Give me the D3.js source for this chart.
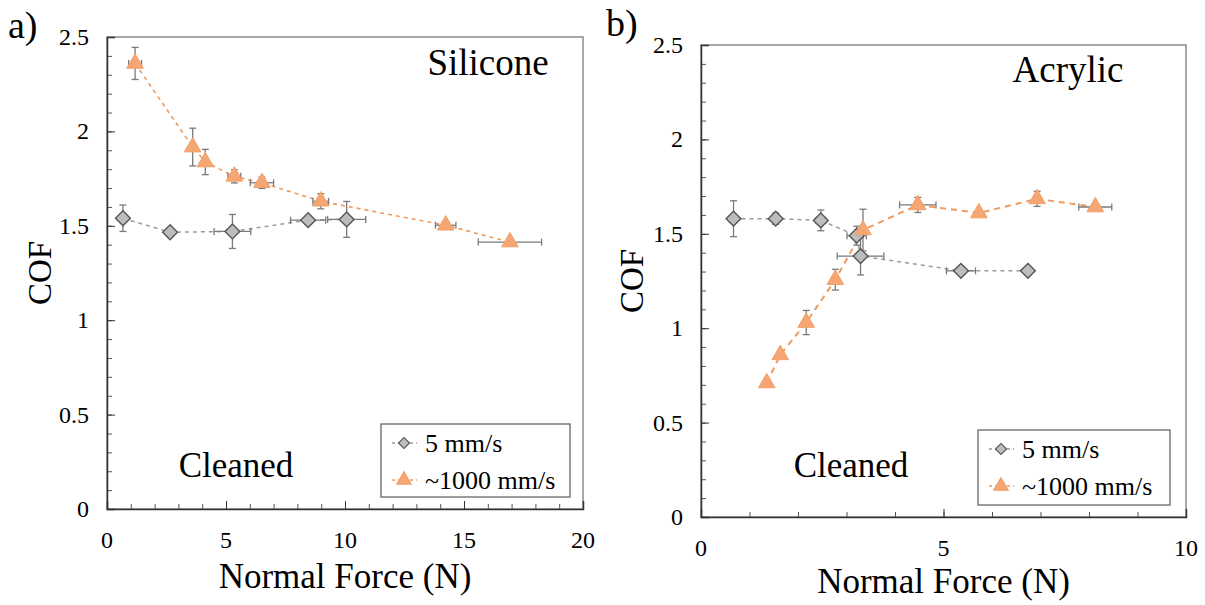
<!DOCTYPE html>
<html>
<head>
<meta charset="utf-8">
<script src="https://cdn.jsdelivr.net/npm/d3@7"></script>
<style>
  body { margin: 0; background: #fff; }
</style>
</head>
<body>
<svg id="chart" width="1205" height="605"></svg>
<script>
// ---- data ----
// panel a) Silicone
var siliconeSlowX   = [0.67, 2.65, 5.27, 8.45, 10.07]
var siliconeSlowY   = [1.54, 1.466, 1.47, 1.53, 1.534]
var siliconeSlowXe  = [0, 0, 0.77, 0.74, 0.8]
var siliconeSlowYe  = [0.07, 0, 0.09, 0.01, 0.095]

var siliconeFastX   = [1.18, 3.6, 4.13, 5.35, 6.51, 8.98, 14.23, 16.93]
var siliconeFastY   = [2.36, 1.917, 1.838, 1.762, 1.728, 1.63, 1.503, 1.414]
var siliconeFastXe  = [0.27, 0, 0, 0.27, 0.49, 0.33, 0.43, 1.33]
var siliconeFastYe  = [0.085, 0.1, 0.067, 0.035, 0.03, 0.04, 0.01, 0.01]

// panel b) Acrylic
var acrylicSlowX    = [0.67, 1.54, 2.47, 3.21, 3.29, 5.36, 6.74]
var acrylicSlowY    = [1.58, 1.58, 1.571, 1.49, 1.382, 1.304, 1.304]
var acrylicSlowXe   = [0, 0, 0.1, 0.2, 0.48, 0.3, 0]
var acrylicSlowYe   = [0.095, 0.03, 0.055, 0.05, 0.1, 0, 0]

var acrylicFastX    = [1.355, 1.635, 2.17, 2.77, 3.34, 4.47, 5.73, 6.93, 8.13]
var acrylicFastY    = [0.71, 0.859, 1.03, 1.257, 1.52, 1.653, 1.61, 1.685, 1.642]
var acrylicFastXe   = [0, 0, 0, 0, 0, 0.375, 0, 0, 0.34]
var acrylicFastYe   = [0, 0, 0.064, 0.055, 0.11, 0.04, 0.01, 0.04, 0]

var seriesNames = ["5 mm/s", "~1000 mm/s"]
var yTicks = [0, 0.5, 1, 1.5, 2, 2.5]

var serif = "'Liberation Serif'"

var zip = function (xs, ys, xe, ye) {
  return xs.map(function (x, i) { return { x: x, y: ys[i], xe: xe[i], ye: ye[i] } })
}

var panels = [
  {
    tag: "a)", title: "Silicone", left: 107, right: 583, top: 37, bottom: 509,
    xMax: 20, xTicks: [0, 5, 10, 15, 20], xMinor: d3.range(0, 21, 1),
    slow: zip(siliconeSlowX, siliconeSlowY, siliconeSlowXe, siliconeSlowYe),
    fast: zip(siliconeFastX, siliconeFastY, siliconeFastXe, siliconeFastYe),
    dash: "4,4", dashW: 1.6,
    tagPos: [8, 38], titlePos: [488, 75], cleanedPos: [236, 477],
    legend: { x: 381, y: 424, w: 189, h: 73 },
    cofX: 40, forceY: 588
  },
  {
    tag: "b)", title: "Acrylic", left: 701, right: 1186, top: 45, bottom: 517,
    xMax: 10, xTicks: [0, 5, 10], xMinor: d3.range(0, 11, 1),
    slow: zip(acrylicSlowX, acrylicSlowY, acrylicSlowXe, acrylicSlowYe),
    fast: zip(acrylicFastX, acrylicFastY, acrylicFastXe, acrylicFastYe),
    dash: "6,5", dashW: 2,
    tagPos: [606, 36], titlePos: [1068, 82], cleanedPos: [851, 477],
    legend: { x: 978, y: 430, w: 192, h: 75 },
    cofX: 632, forceY: 593
  }
]

var slowFill = "#bdbdbd", slowStroke = "#555", slowLine = "#9a9a9a"
var fastFill = "#f5a672", fastLine = "#ef9a5e", errColor = "#7a7a7a"

var svg = d3.select("#chart")
var diamond = d3.symbol().type(d3.symbolSquare).size(110)
var triangle = d3.symbol().type(d3.symbolTriangle).size(120)

// small serif text falls back to sans here, so draw big and scale down
var label = function (parent, px, py, size, str, anchor, rot) {
  var k = size / 40
  return parent.append("text")
    .attr("transform", "translate(" + px + "," + py + ")" + (rot ? " rotate(" + rot + ")" : "") + " scale(" + k + ")")
    .attr("text-anchor", anchor || "start")
    .style("font-family", serif).style("font-size", "40px").attr("fill", "#000")
    .text(str)
}

panels.forEach(function (p) {
  var x = d3.scaleLinear().domain([0, p.xMax]).range([p.left, p.right])
  var y = d3.scaleLinear().domain([0, 2.5]).range([p.bottom, p.top])
  var g = svg.append("g")

  // frame
  g.append("rect")
    .attr("x", p.left).attr("y", p.top)
    .attr("width", p.right - p.left).attr("height", p.bottom - p.top)
    .attr("fill", "none").attr("stroke", "#8a8a8a").attr("stroke-width", 1.5)

  // minor ticks
  g.append("g").attr("transform", "translate(" + p.left + ",0)")
    .call(d3.axisLeft(y).tickValues(d3.range(0, 2.51, 0.1)).tickSize(-5).tickFormat(""))
    .call(function (s) { s.select(".domain").remove(); s.selectAll("line").attr("stroke", "#555") })
  g.append("g").attr("transform", "translate(0," + p.bottom + ")")
    .call(d3.axisBottom(x).tickValues(p.xMinor).tickSize(-5).tickFormat(""))
    .call(function (s) { s.select(".domain").remove(); s.selectAll("line").attr("stroke", "#555") })

  // major ticks
  g.append("g").attr("transform", "translate(" + p.left + ",0)")
    .call(d3.axisLeft(y).tickValues(yTicks).tickSize(-8).tickFormat(""))
    .call(function (s) {
      s.select(".domain").attr("stroke", "#333").attr("stroke-width", 1.5)
      s.selectAll("line").attr("stroke", "#333")
    })
  g.append("g").attr("transform", "translate(0," + p.bottom + ")")
    .call(d3.axisBottom(x).tickValues(p.xTicks).tickSize(-8).tickFormat(""))
    .call(function (s) {
      s.select(".domain").attr("stroke", "#333").attr("stroke-width", 1.5)
      s.selectAll("line").attr("stroke", "#333")
    })

  // tick labels
  yTicks.forEach(function (v) {
    label(g, p.left - 18, y(v) + 8, 24, String(v), "end")
  })
  p.xTicks.forEach(function (v) {
    label(g, x(v), p.bottom + 39, 24, String(v), "middle")
  })

  // axis titles
  label(g, p.cofX + 11, (p.top + p.bottom) / 2, 33, "COF", "middle", -90)
  label(g, (p.left + p.right) / 2, p.forceY, 35, "Normal Force (N)", "middle")

  label(g, p.tagPos[0], p.tagPos[1], 38, p.tag)
  label(g, p.titlePos[0], p.titlePos[1], 37, p.title, "middle")
  label(g, p.cleanedPos[0], p.cleanedPos[1], 35, "Cleaned", "middle")

  var line = d3.line().x(function (d) { return x(d.x) }).y(function (d) { return y(d.y) })

  // connecting lines
  g.append("path").datum(p.slow).attr("d", line)
    .attr("fill", "none").attr("stroke", slowLine).attr("stroke-width", 1.5).attr("stroke-dasharray", "4,4")
  g.append("path").datum(p.fast).attr("d", line)
    .attr("fill", "none").attr("stroke", fastLine).attr("stroke-width", p.dashW).attr("stroke-dasharray", p.dash)

  // error bars
  var drawErrors = function (data) {
    var eb = g.append("g").attr("stroke", errColor).attr("stroke-width", 1.3).attr("fill", "none")
    data.forEach(function (d) {
      var cx = x(d.x), cy = y(d.y)
      if (d.ye > 0) {
        var y0 = y(d.y - d.ye), y1 = y(d.y + d.ye)
        eb.append("line").attr("x1", cx).attr("x2", cx).attr("y1", y0).attr("y2", y1)
        eb.append("line").attr("x1", cx - 3.5).attr("x2", cx + 3.5).attr("y1", y0).attr("y2", y0)
        eb.append("line").attr("x1", cx - 3.5).attr("x2", cx + 3.5).attr("y1", y1).attr("y2", y1)
      }
      if (d.xe > 0) {
        var x0 = x(d.x - d.xe), x1 = x(d.x + d.xe)
        eb.append("line").attr("x1", x0).attr("x2", x1).attr("y1", cy).attr("y2", cy)
        eb.append("line").attr("x1", x0).attr("x2", x0).attr("y1", cy - 3.5).attr("y2", cy + 3.5)
        eb.append("line").attr("x1", x1).attr("x2", x1).attr("y1", cy - 3.5).attr("y2", cy + 3.5)
      }
    })
  }
  drawErrors(p.slow)
  drawErrors(p.fast)

  // markers
  g.append("g").selectAll("path").data(p.slow).enter().append("path")
    .attr("d", diamond)
    .attr("transform", function (d) { return "translate(" + x(d.x) + "," + y(d.y) + ") rotate(45)" })
    .attr("fill", slowFill).attr("stroke", slowStroke).attr("stroke-width", 1.4)
  g.append("g").selectAll("path").data(p.fast).enter().append("path")
    .attr("d", triangle)
    .attr("transform", function (d) { return "translate(" + x(d.x) + "," + y(d.y) + ")" })
    .attr("fill", fastFill).attr("stroke", "#f0a06a").attr("stroke-width", 1)

  // legend
  var L = p.legend
  var lg = g.append("g").attr("transform", "translate(" + L.x + "," + L.y + ")")
  lg.append("rect").attr("width", L.w).attr("height", L.h)
    .attr("fill", "#fff").attr("stroke", "#666").attr("stroke-width", 1.3)
  seriesNames.forEach(function (name, i) {
    var ly = 19 + i * 37
    lg.append("line").attr("x1", 11).attr("x2", 36).attr("y1", ly).attr("y2", ly)
      .attr("stroke", i === 0 ? slowLine : fastLine).attr("stroke-width", 1.4).attr("stroke-dasharray", "3,3")
    lg.append("path")
      .attr("d", i === 0 ? d3.symbol().type(d3.symbolSquare).size(60)() : d3.symbol().type(d3.symbolTriangle).size(90)())
      .attr("transform", "translate(23," + ly + ")" + (i === 0 ? " rotate(45)" : ""))
      .attr("fill", i === 0 ? slowFill : fastFill)
      .attr("stroke", i === 0 ? slowStroke : "#f0a06a").attr("stroke-width", 1.2)
    label(lg, 44, ly + 9, 26, name)
  })
})
</script>
</body>
</html>
